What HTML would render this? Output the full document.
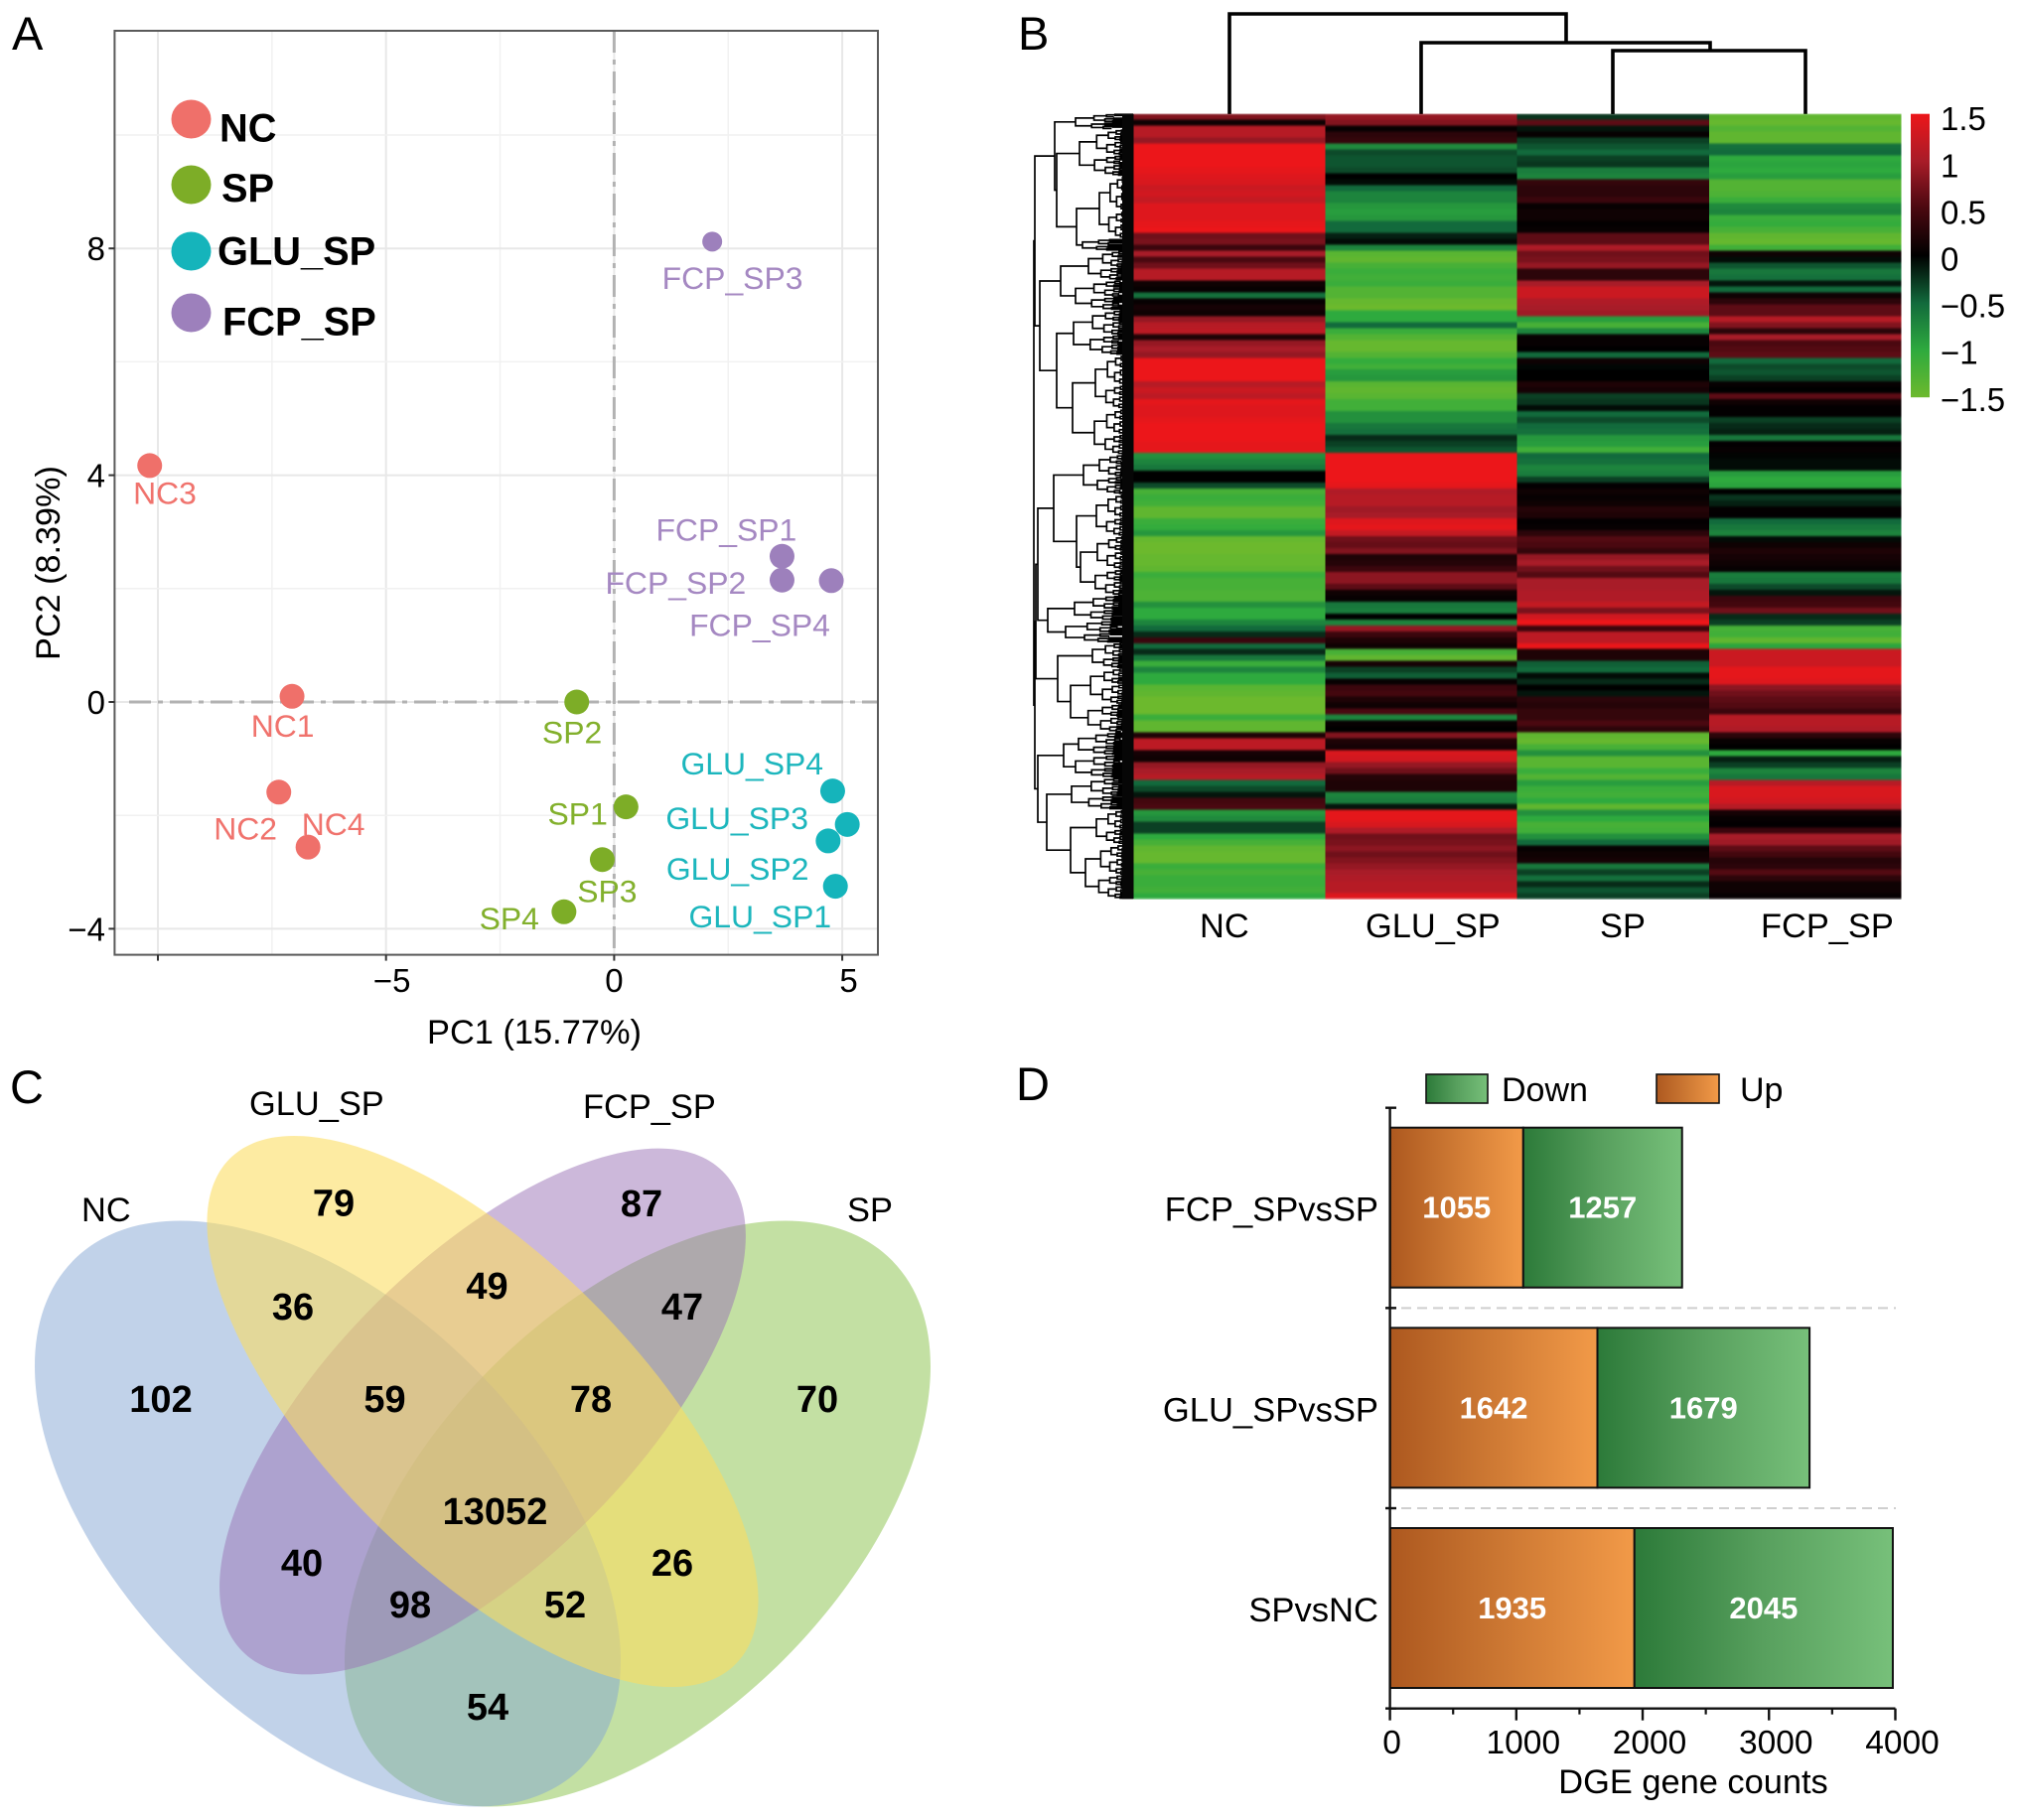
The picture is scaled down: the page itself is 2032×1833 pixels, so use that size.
<!DOCTYPE html>
<html lang="en">
<head>
<meta charset="utf-8">
<title>PCA, heatmap, Venn and DGE counts</title>
<style>
html,body{margin:0;padding:0;background:#fff;overflow:hidden}
svg{display:block}
text{font-family:"Liberation Sans",sans-serif;fill:#000}
</style>
</head>
<body>
<svg id="fig" xmlns="http://www.w3.org/2000/svg" width="2032" height="1833" viewBox="0 0 2032 1833">
<defs>
<linearGradient id="upGrad" x1="0" x2="1" y1="0" y2="0"><stop offset="0" stop-color="#ad581f"/><stop offset="0.35" stop-color="#c4702e"/><stop offset="1" stop-color="#f29a48"/></linearGradient>
<linearGradient id="downGrad" x1="0" x2="1" y1="0" y2="0"><stop offset="0" stop-color="#2c7a39"/><stop offset="0.5" stop-color="#58a05e"/><stop offset="1" stop-color="#77c07a"/></linearGradient>
<linearGradient id="cbarGrad" x1="0" x2="0" y1="0" y2="1"></linearGradient>
<filter id="softRows" x="0" y="0" width="1" height="1" color-interpolation-filters="sRGB"><feGaussianBlur stdDeviation="0 1"/></filter>
</defs>
<rect x="0" y="0" width="2032" height="1833" fill="#fff"/>

<text x="12" y="50" font-size="47">A</text>
<text x="1025" y="50" font-size="47">B</text>
<text x="10" y="1111" font-size="47">C</text>
<text x="1023" y="1108" font-size="47">D</text>

<g id="pca"></g>
<g id="dendroTop" fill="none" stroke="#000" stroke-width="3.6">
<path d="M1238 115V14H1577V43M1431 115V43H1722V51M1624 115V51H1818V115"/>
</g>
<g id="dendroLeft"></g>
<g id="heat" filter="url(#softRows)"></g>
<g id="cbar"></g>
<g font-size="34.4">
<text x="1208" y="944">NC</text>
<text x="1375" y="944">GLU_SP</text>
<text x="1611" y="944">SP</text>
<text x="1773" y="944">FCP_SP</text>
</g>

<g>
<path id="vennSP" fill="#87c248" fill-opacity="0.5"/>
<path id="vennNC" fill="#83a5d3" fill-opacity="0.5"/>
<path id="vennFCP" fill="#9a71b5" fill-opacity="0.5"/>
<path id="vennGLU" fill="#fbdc5e" fill-opacity="0.58"/>
<g font-size="34.4">
<text x="82" y="1230">NC</text>
<text x="251" y="1123">GLU_SP</text>
<text x="587" y="1126">FCP_SP</text>
<text x="853" y="1230">SP</text>
</g>
<g font-size="38" font-weight="700" text-anchor="middle">
<text x="336" y="1224.5">79</text>
<text x="646" y="1225">87</text>
<text x="295" y="1329">36</text>
<text x="490.5" y="1308">49</text>
<text x="687" y="1329">47</text>
<text x="162" y="1422">102</text>
<text x="387.5" y="1422">59</text>
<text x="595" y="1422">78</text>
<text x="823" y="1422">70</text>
<text x="498.5" y="1535">13052</text>
<text x="304" y="1587">40</text>
<text x="677" y="1587">26</text>
<text x="413" y="1629">98</text>
<text x="569" y="1629">52</text>
<text x="491" y="1732">54</text>
</g>
</g>

<g id="bars"></g>
</svg>

<script>
// ---------- Panel A data ----------
const sampleNames = ['NC1','NC2','NC3','NC4','SP1','SP2','SP3','SP4','GLU_SP1','GLU_SP2','GLU_SP3','GLU_SP4','FCP_SP1','FCP_SP2','FCP_SP3','FCP_SP4'];
const sampleGroups = ['NC','NC','NC','NC','SP','SP','SP','SP','GLU_SP','GLU_SP','GLU_SP','GLU_SP','FCP_SP','FCP_SP','FCP_SP','FCP_SP'];
const pc1Values = [-7.06,-7.35,-10.18,-6.71,0.26,-0.82,-0.26,-1.10,4.85,4.69,5.11,4.79,3.68,3.68,2.15,4.76];
const pc2Values = [0.10,-1.59,4.17,-2.56,-1.85,0,-2.78,-3.70,-3.25,-2.45,-2.16,-1.57,2.57,2.15,8.12,2.14];
const pcaXTicks = [-5,0,5];
const pcaYTicks = [-4,0,4,8];
const legendGroups = ['NC','SP','GLU_SP','FCP_SP'];

// ---------- Panel B data (one value per row, per column) ----------
const heatColumns = ['NC','GLU_SP','SP','FCP_SP'];
const heatNC = [0.8,0.1,1.1,1.1,0.9,1.5,1.5,1.5,1.5,1.45,1.4,1.35,1.25,1.3,1.2,1.4,1.4,1.4,1.45,1.5,0.7,0.75,0.4,1.0,0.5,0.7,1.1,1.1,0.1,0.05,-0.55,0.05,0.15,0.1,0.9,1.1,1.15,0.2,0.9,1.0,0.9,1.5,1.5,1.5,1.5,1.1,1.25,1.15,1.45,1.4,1.4,1.45,1.5,1.5,1.5,1.45,1.45,-0.8,-0.7,-0.6,0,0,-0.35,-1.2,-1.1,-1.15,-1.4,-1.4,-1.1,-1.05,-0.85,-1.45,-1.5,-1.5,-1.45,-1.45,-1.4,-1.1,-1.2,-1.2,-1.25,-1.25,-0.8,-1.0,-1.0,-0.7,-0.5,-0.2,0.4,-0.5,-0.2,-0.6,-1.1,-0.7,-1.0,-1.0,-1.35,-1.4,-1.5,-1.5,-1.5,-1.1,-1.4,-1.4,0.2,1.15,1.15,0.15,0.1,0.9,1.0,1.1,-0.5,-0.35,-0.1,0.45,0.5,-0.85,-0.75,-0.3,-0.3,-1.0,-1.2,-1.4,-1.45,-1.45,-1.1,-1.2,-1.1,-1.1,-1.15,-1.0];
const heatGLU = [0.9,0.8,0.05,0.3,0.35,-0.75,-0.35,-0.4,-0.4,-0.35,0,-0.05,-0.5,-0.7,-0.7,-0.85,-0.9,-0.85,-0.5,-0.5,-0.15,-0.05,-0.7,-1.35,-1.4,-1.2,-1.1,-1.15,-1.1,-1.3,-1.3,-1.45,-1.5,-1.0,-1.0,-0.5,-1.1,-1.3,-1.45,-1.45,-1.3,-1.05,-1.15,-0.9,-0.85,-1.35,-1.4,-1.35,-1.15,-1.15,-0.8,-0.8,-0.6,-0.55,-0.2,-0.3,-0.4,1.5,1.5,1.5,1.5,1.5,1.45,1.05,1.1,1.1,0.95,1.0,1.4,1.45,1.2,0.7,0.65,0.8,0.2,0.25,0.4,0.85,0.85,0.6,0.1,0.05,-0.6,-0.65,0,-0.7,0.9,0.4,0.2,0.1,-1.2,-1.4,0.15,-0.3,-0.45,0.05,0.4,0.45,0.2,0.1,0.5,-0.7,0.05,0,0.8,0.2,0.15,1.35,1.3,0.9,0.7,0.25,0.2,0.2,-0.7,-0.65,-0.1,1.45,1.45,1.35,1.05,0.7,0.75,0.85,0.7,0.8,0.9,1.0,1.05,1.1,1.1,1.4];
const heatSP = [-0.25,0.6,-0.1,0.05,-0.3,-0.4,-0.5,-0.3,-0.25,-0.65,-0.7,0.35,0.3,0.3,0.4,0.05,0.1,0.1,0.02,0.05,0.6,0.6,1.05,0.7,0.75,0.9,0.3,0.3,1.0,1.25,1.25,1.05,1.0,0.95,-0.9,-1.2,-0.7,0.05,0.05,0,-0.5,0.1,-0.03,0,0,0.2,0.15,-0.3,-0.25,-0.05,-0.5,-0.35,-0.5,-0.55,-0.85,-0.9,-1.15,-0.5,-0.55,-0.7,-0.65,-0.3,0.02,0.1,0.05,0.1,0.25,0.2,0.02,0.05,0.3,0.55,0.5,0.35,0.9,1.0,0.7,0.55,1.0,1.0,1.05,1.05,1.2,0.75,1.3,1.5,0.4,1.15,1.15,1.5,0.2,0.2,-0.45,-0.5,-0.05,-0.2,0,-0.1,0.3,0.25,0.35,0.35,0.5,0.3,-1.4,-1.45,-1.2,-0.8,-1.35,-1.35,-1.1,-1.3,-0.9,-1.1,-1.15,-1.0,-1.4,-0.8,-1.0,-1.2,-1.15,-0.8,-0.5,0.05,0.1,0.15,-0.6,-0.3,-0.55,-0.2,-0.4,-0.3];
const heatFCP = [-1.4,-1.45,-1.3,-1.4,-1.4,-0.55,-0.5,-1.0,-0.95,-1.0,-0.9,-1.3,-1.3,-1.25,-1.1,-0.75,-0.7,-1.1,-1.05,-1.2,-1.4,-1.45,-1.15,0.1,-0.05,-0.4,-0.6,-0.55,-0.1,-0.5,0.1,0.3,0.6,0.6,1.1,0.8,0.3,1.0,0.5,0.55,0.6,-0.5,-0.35,-0.4,-0.3,0.05,0,0.6,0.1,0.02,0.02,-0.3,-0.2,-0.15,-0.6,0.02,0.05,-0.02,-0.05,-0.05,-0.9,-1.0,-0.95,0,-0.25,-0.15,0.03,0.02,-0.5,-0.6,-0.7,-0.05,0.1,0.2,0.15,0.1,0.05,-0.65,-0.6,-0.35,-0.1,0.4,0.45,0.7,-0.2,-0.3,-1.2,-1.15,-1.4,-0.95,1.25,1.25,1.25,1.45,1.45,1.4,0.85,0.7,0.6,0.55,0.4,1.1,1.1,1.05,0.3,0.05,0,-1.0,-0.15,-0.3,-0.7,-0.6,1.1,1.35,1.35,1.3,1.1,0.15,0.05,0.02,0.4,1.0,0.95,0.6,0.45,0.25,0.3,0.55,0.3,0.1,0.1,0.05];
const colorbarTicks = [1.5,1,0.5,0,-0.5,-1,-1.5];
// merge height, then either [row-start,row-end] for a dense cluster or two child nodes
const rowTree = [100,
  [99,
    [79, [58,0,2.6], [77, [54,2.6,10.4], [57, [34,10.4,21], [51,21,23]]]],
    [94, [73, [45,23,28], [58,28,33]], [77, [60,33,40.5], [61, [38,40.5,49.6], [39,49.6,57.3]]]]
  ],
  [99,
    [98,
      [96, [80, [50,57.3,63.9], [57, [37,63.9,71], [53,71,81]]], [86, [59,81,85.2], [68,85.2,88.9]]],
      [76, [41,88.9,93.2], [63,93.2,104]]
    ],
    [96, [70, [55,104,107.8], [58,107.8,111.6]], [87, [62,111.6,117], [63, [37,117,122.8], [48,122.8,132]]]]
  ]
];

// ---------- Panel D data ----------
const barCategories = ['FCP_SPvsSP','GLU_SPvsSP','SPvsNC'];
const upCounts = [1055,1642,1935];
const downCounts = [1257,1679,2045];
const barXTicks = [0,1000,2000,3000,4000];
const barMinorTicks = [500,1500,2500,3500];

// ---------- helpers ----------
const NS = 'http://www.w3.org/2000/svg';
function mk(tag, parent, attrs, txt) {
  const n = document.createElementNS(NS, tag);
  for (const k in attrs) n.setAttribute(k, attrs[k]);
  if (txt !== undefined) n.textContent = txt;
  parent.appendChild(n);
  return n;
}
const fmt = v => String(v).replace('-', '\u2212');

// ---------- Panel C shapes ----------
function ellipsePath(cx, cy, a, b, deg) {
  const t = deg * Math.PI / 180, c = Math.cos(t), s = Math.sin(t), k = 0.5523;
  const P = (u, v) => (cx + u * c - v * s).toFixed(1) + ' ' + (cy + u * s + v * c).toFixed(1);
  return 'M' + P(a, 0) +
    'C' + P(a, k * b) + ' ' + P(k * a, b) + ' ' + P(0, b) +
    'C' + P(-k * a, b) + ' ' + P(-a, k * b) + ' ' + P(-a, 0) +
    'C' + P(-a, -k * b) + ' ' + P(-k * a, -b) + ' ' + P(0, -b) +
    'C' + P(k * a, -b) + ' ' + P(a, -k * b) + ' ' + P(a, 0) + 'Z';
}
document.getElementById('vennSP').setAttribute('d', ellipsePath(642, 1524.5, 361.5, 208, -45));
document.getElementById('vennNC').setAttribute('d', ellipsePath(330, 1524.5, 361.5, 208, 45));
document.getElementById('vennFCP').setAttribute('d', ellipsePath(486, 1421.5, 342, 152.7, -45));
document.getElementById('vennGLU').setAttribute('d', ellipsePath(486, 1421.5, 360, 156, 45));

// ---------- Panel A ----------
(function () {
  const g = document.getElementById('pca');
  const L = 115.4, R = 884, T = 31, B = 961.6;
  const xA = v => 618.4 + v * 45.94;
  const yA = v => 707 - v * 57.1;
  const groupColor = {NC:'#ef706a', SP:'#7dad27', GLU_SP:'#15b4bb', FCP_SP:'#9d80bc'};
  const labelColor = {NC:'#f0736d', SP:'#82b02c', GLU_SP:'#1cb6bd', FCP_SP:'#a588c2'};
  const labelOffset = {NC1:[-41.3,40.6],NC2:[-65.5,47.5],NC3:[-16.6,38.6],NC4:[-6.4,-12.4],SP1:[-78.8,17.9],SP2:[-34.8,41.3],SP3:[-25.2,42.7],SP4:[-85.3,17.9],GLU_SP1:[-147.7,41.3],GLU_SP2:[-163,39.3],GLU_SP3:[-182.8,4.8],GLU_SP4:[-153,-16.5],FCP_SP1:[-127,-15.8],FCP_SP2:[-178,13.8],FCP_SP3:[-50.5,47.5],FCP_SP4:[-143,55.8]};

  for (let v = -10; v <= 5; v += 2.5) {
    const major = v % 5 === 0;
    const l = mk('line', g, {x1:xA(v), x2:xA(v), y1:T, y2:B, stroke: major ? '#e8e8e8' : '#f1f1f1', 'stroke-width': major ? 2 : 1.5});
    
    
  }
  for (let v = -4; v <= 10; v += 2) {
    const major = v % 4 === 0;
    const l = mk('line', g, {x1:L, x2:R, y1:yA(v), y2:yA(v), stroke: major ? '#e8e8e8' : '#f1f1f1', 'stroke-width': major ? 2 : 1.5});
    
    
  }
  const refV = mk('line', g, {x1:xA(0), x2:xA(0), y1:T, y2:B, stroke:'#b2b2b2', 'stroke-width':3, 'stroke-dasharray':'22 7 5 7'});
  
  
  const refH = mk('line', g, {x1:130, x2:R, y1:yA(0), y2:yA(0), stroke:'#b2b2b2', 'stroke-width':3, 'stroke-dasharray':'22 7 5 7'});
  
  

  const box = mk('rect', g, {x:L, y:T, width:R-L, height:B-T, fill:'none', stroke:'#5a5a5a', 'stroke-width':2});
  
  

  const xTickAll = [-10].concat(pcaXTicks);
  xTickAll.forEach(v => {
    const t = mk('line', g, {x1:xA(v), x2:xA(v), y1:B, y2:B+6, stroke:'#333', 'stroke-width':2});
    
    
  });
  pcaXTicks.forEach(v => {
    const t = mk('text', g, {x:xA(v) + (v === 5 ? 6.5 : v === -5 ? 6 : 0), y:999, 'font-size':33, 'text-anchor':'middle'}, fmt(v));
    
    
  });
  pcaYTicks.forEach(v => {
    const tk = mk('line', g, {x1:L-6, x2:L, y1:yA(v), y2:yA(v), stroke:'#333', 'stroke-width':2});
    
    
    const t = mk('text', g, {x:106, y:yA(v)+12, 'font-size':33, 'text-anchor':'end'}, fmt(v));
    
    
  });
  const xt = mk('text', g, {x:538, y:1051, 'font-size':34.4, 'text-anchor':'middle'}, 'PC1 (15.77%)');
  
  
  const yt = mk('text', g, {x:0, y:0, 'font-size':34.2, 'text-anchor':'middle', transform:'translate(60 567) rotate(-90)'}, 'PC2 (8.39%)');
  
  

  sampleNames.forEach((name, i) => {
    const grp = sampleGroups[i];
    const r = name === 'FCP_SP3' ? 10 : 12.5;
    const c = mk('circle', g, {cx:xA(pc1Values[i]), cy:yA(pc2Values[i]), r:r, fill:groupColor[grp]});
    
    
    const off = labelOffset[name];
    const t = mk('text', g, {x:xA(pc1Values[i])+off[0], y:yA(pc2Values[i])+off[1], 'font-size':31.9, style:'fill:' + labelColor[grp]}, name);
    
    
  });

  const legendCircleY = [120, 186, 253, 315];
  const legendTextX = [221, 223, 219, 224];
  const legendTextY = [142.5, 203, 266.5, 337.5];
  legendGroups.forEach((grp, i) => {
    const e = mk('ellipse', g, {cx:192.5, cy:legendCircleY[i], rx:20, ry:19.5, fill:groupColor[grp]});
    
    
    const t = mk('text', g, {x:legendTextX[i], y:legendTextY[i], 'font-size':39.8, 'font-weight':700}, grp);
    
    
  });
})();

// ---------- Panel B ----------
const colorStops = [[-1.5,[108,185,45]],[-1,[46,170,62]],[-0.5,[18,106,60]],[0,[0,0,0]],[0.5,[74,8,16]],[1,[168,28,40]],[1.5,[236,22,26]]];
function heatColor(v) {
  const c = Math.max(-1.5, Math.min(1.5, v));
  for (let i = 0; i < colorStops.length - 1; i++) {
    const a = colorStops[i], b = colorStops[i + 1];
    if (c <= b[0]) {
      const t = (c - a[0]) / (b[0] - a[0]);
      return 'rgb(' + a[1].map((p, k) => Math.round(p + (b[1][k] - p) * t)).join(',') + ')';
    }
  }
  return '#ec161a';
}
(function () {
  const g = document.getElementById('heat');
  const colX = c => 1141.5 + c * 193.1;
  const rowY = r => 114.7 + r * (790.6 / heatNC.length);
  [heatNC, heatGLU, heatSP, heatFCP].forEach((col, c) => {
    col.forEach((v, r) => {
      const cell = mk('rect', g, {x:colX(c), y:rowY(r), width:193.6, height:rowY(r+1)-rowY(r)+0.4, fill:heatColor(v), 'shape-rendering':'crispEdges'});
      
      
    });
  });

  // row dendrogram
  const xD = h => 1141 - h;
  let d = '';
  function cluster(h, y0, y1, depth) {
    if (y1 - y0 < 1.9) return (y0 + y1) / 2;
    const s = y0 + (y1 - y0) * (depth % 2 ? 0.44 : 0.56);
    const small = (y1 - y0) < 3.8;
    const kh1 = small ? 0 : h * 0.68;
    const kh2 = small ? 0 : h * 0.72;
    const a = cluster(kh1, y0, s, depth + 1);
    const b = cluster(kh2, s, y1, depth + 1);
    d += 'M' + xD(kh1) + ' ' + a + 'H' + xD(h) + 'V' + b + 'H' + xD(kh2);
    return (a + b) / 2;
  }
  function walk(n) {
    const h = n[0];
    if (typeof n[1] === 'number') return {h:h, y:cluster(h, rowY(n[1]), rowY(n[2]), 0)};
    const a = walk(n[1]), b = walk(n[2]);
    d += 'M' + xD(a.h) + ' ' + a.y + 'H' + xD(h) + 'V' + b.y + 'H' + xD(b.h);
    return {h:h, y:(a.y + b.y) / 2};
  }
  walk(rowTree);
  const gd = document.getElementById('dendroLeft');
  const links = mk('path', gd, {d:d, fill:'none', stroke:'#000', 'stroke-width':1.7});
  
  
  const band = mk('rect', gd, {x:1130, y:rowY(0), width:11.6, height:rowY(heatNC.length)-rowY(0), fill:'#060606'});
  
  

  // colour bar
  const grad = document.getElementById('cbarGrad');
  colorStops.slice().reverse().forEach(s => {
    mk('stop', grad, {offset:(1.5 - s[0]) / 3, 'stop-color':heatColor(s[0])});
  });
  const gc = document.getElementById('cbar');
  const bar = mk('rect', gc, {x:1924, y:114.7, width:19, height:285.5, fill:'url(#cbarGrad)'});
  
  
  const cbY = v => 261 - v * 94.2;
  colorbarTicks.forEach(v => {
    const t = mk('text', gc, {x:1954, y:cbY(v)+11.5, 'font-size':33}, fmt(v));
    
    
  });
})();

// ---------- Panel D ----------
(function () {
  const g = document.getElementById('bars');
  const xB = v => 1399.6 + v * 0.12722;
  const bandTop = i => 1115.7 + i * 201.65;
  const barH = 161;
  for (let i = 1; i < barCategories.length; i++) {
    const l = mk('line', g, {x1:1411, x2:1909, y1:bandTop(i), y2:bandTop(i), stroke:'#cfcfcf', 'stroke-width':2, 'stroke-dasharray':'10 6'});
    
    
  }
  barCategories.forEach((name, i) => {
    const y = bandTop(i) + 20;
    const up = mk('rect', g, {x:xB(0), y:y, width:xB(upCounts[i])-xB(0), height:barH, fill:'url(#upGrad)', stroke:'#111', 'stroke-width':2});
    
    
    const dn = mk('rect', g, {x:xB(upCounts[i]), y:y, width:xB(upCounts[i]+downCounts[i])-xB(upCounts[i]), height:barH, fill:'url(#downGrad)', stroke:'#111', 'stroke-width':2});
    
    
    const tu = mk('text', g, {x:xB(upCounts[i]/2), y:y+91, 'font-size':31, 'font-weight':700, 'text-anchor':'middle', style:'fill:#fff'}, upCounts[i]);
    
    
    const td = mk('text', g, {x:xB(upCounts[i]+downCounts[i]/2), y:y+91, 'font-size':31, 'font-weight':700, 'text-anchor':'middle', style:'fill:#fff'}, downCounts[i]);
    
    
    const c = mk('text', g, {x:1388, y:bandTop(i)+114, 'font-size':34.6, 'text-anchor':'end'}, name);
    
    
  });
  const ax = mk('path', g, {d:'M' + xB(0) + ' ' + bandTop(0) + 'V' + bandTop(3) + 'H' + xB(4000), fill:'none', stroke:'#111', 'stroke-width':2.4});
  
  
  for (let i = 0; i <= barCategories.length; i++) {
    const t = mk('line', g, {x1:1395, x2:1406, y1:bandTop(i), y2:bandTop(i), stroke:'#111', 'stroke-width':2.4});
    
    
  }
  barXTicks.forEach(v => {
    const t = mk('line', g, {x1:xB(v), x2:xB(v), y1:bandTop(3), y2:bandTop(3)+12, stroke:'#111', 'stroke-width':2.4});
    
    
    const lab = mk('text', g, {x:xB(v) + (v === 0 ? 2 : 7), y:1766, 'font-size':33.5, 'text-anchor':'middle'}, v);
    
    
  });
  barMinorTicks.forEach(v => {
    const t = mk('line', g, {x1:xB(v), x2:xB(v), y1:bandTop(3), y2:bandTop(3)+6, stroke:'#111', 'stroke-width':2.2});
    
    
  });
  const title = mk('text', g, {x:1705, y:1806, 'font-size':34.4, 'text-anchor':'middle'}, 'DGE gene counts');
  
  

  const sd = mk('rect', g, {x:1436, y:1082, width:62, height:29, fill:'url(#downGrad)', stroke:'#111', 'stroke-width':1.6});
  
  
  const ld = mk('text', g, {x:1512, y:1109, 'font-size':34}, 'Down');
  
  
  const su = mk('rect', g, {x:1668, y:1082, width:63, height:29, fill:'url(#upGrad)', stroke:'#111', 'stroke-width':1.6});
  
  
  const lu = mk('text', g, {x:1752, y:1109, 'font-size':34}, 'Up');
  
  
})();
</script>
</body>
</html>
